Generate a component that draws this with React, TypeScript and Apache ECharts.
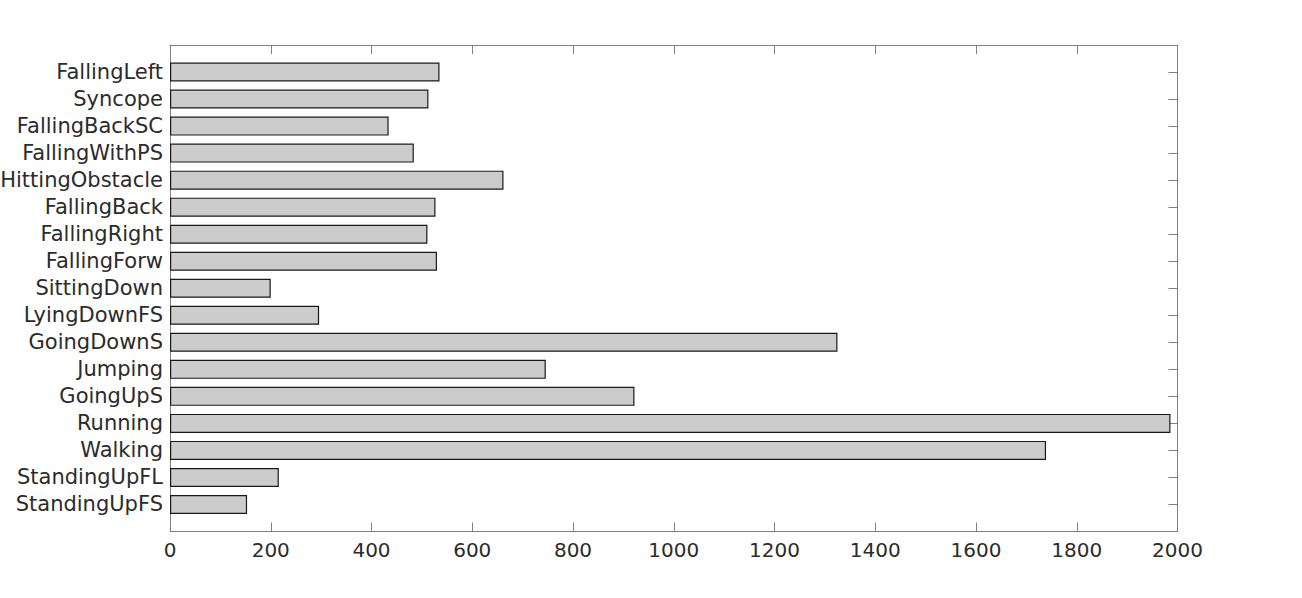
import React, { useEffect, useRef } from "react";
import * as echarts from "echarts";

// categories listed bottom to top
const categories: string[] = [
  "StandingUpFS",
  "StandingUpFL",
  "Walking",
  "Running",
  "GoingUpS",
  "Jumping",
  "GoingDownS",
  "LyingDownFS",
  "SittingDown",
  "FallingForw",
  "FallingRight",
  "FallingBack",
  "HittingObstacle",
  "FallingWithPS",
  "FallingBackSC",
  "Syncope",
  "FallingLeft",
];

const counts: number[] = [
  153, 216, 1739, 1986, 922, 746, 1325, 296, 200, 530, 511, 527, 662, 484, 434, 513, 535,
];

const xTicks: number[] = [0, 200, 400, 600, 800, 1000, 1200, 1400, 1600, 1800, 2000];

export default function App() {
  const ref = useRef<HTMLDivElement>(null);
  useEffect(() => {
    if (!ref.current) return;
    const chart = echarts.init(ref.current, null, { renderer: "svg" });
    // pad one empty slot below and above, like the reference's axis limits
    const cats = ["", ...categories, ""];
    const vals: (number | null)[] = [null, ...counts, null];
    const axisColor = "#808080";
    const textColor = "#2b2b2b";
    const font = "DejaVu Sans";
    const tickStyle = { show: true, inside: true, length: 9, lineStyle: { color: axisColor, width: 1 } };
    chart.setOption({
      animation: false,
      grid: {
        left: 170,
        right: 124.5,
        top: 45,
        bottom: 66.5,
        containLabel: false,
        outerBoundsMode: "none",
      },
      xAxis: [
        {
          type: "value",
          position: "bottom",
          min: xTicks[0],
          max: xTicks[xTicks.length - 1],
          interval: 200,
          axisLine: { show: true, onZero: false, lineStyle: { color: axisColor, width: 1 } },
          axisTick: tickStyle,
          axisLabel: {
            color: textColor,
            fontFamily: font,
            fontSize: 20,
            margin: 8,
            formatter: (v: number) => String(v),
          },
          splitLine: { show: false },
        },
        {
          type: "value",
          position: "top",
          min: xTicks[0],
          max: xTicks[xTicks.length - 1],
          interval: 200,
          axisLine: { show: true, onZero: false, lineStyle: { color: axisColor, width: 1 } },
          axisTick: tickStyle,
          axisLabel: { show: false },
          splitLine: { show: false },
        },
      ],
      yAxis: [
        {
          type: "category",
          position: "left",
          data: cats,
          boundaryGap: false,
          axisLine: { show: true, onZero: false, lineStyle: { color: axisColor, width: 1 } },
          axisTick: { ...tickStyle, interval: 0 },
          axisLabel: { color: textColor, fontFamily: font, fontSize: 21, margin: 7, interval: 0 },
          splitLine: { show: false },
        },
        {
          type: "category",
          position: "right",
          data: cats,
          boundaryGap: false,
          axisLine: { show: true, onZero: false, lineStyle: { color: axisColor, width: 1 } },
          axisTick: { ...tickStyle, interval: 0 },
          axisLabel: { show: false },
          splitLine: { show: false },
        },
      ],
      series: [
        {
          type: "bar",
          xAxisIndex: 0,
          yAxisIndex: 0,
          data: vals,
          barWidth: 19,
          itemStyle: { color: "#cccccc", borderColor: "#1a1a1a", borderWidth: 1.2 },
          z: 1,
        },
      ],
    });
    return () => chart.dispose();
  }, []);
  return (
    <div
      ref={ref}
      style={{ position: "fixed", left: 0, top: 0, width: 1302, height: 598, background: "#fff" }}
    />
  );
}
